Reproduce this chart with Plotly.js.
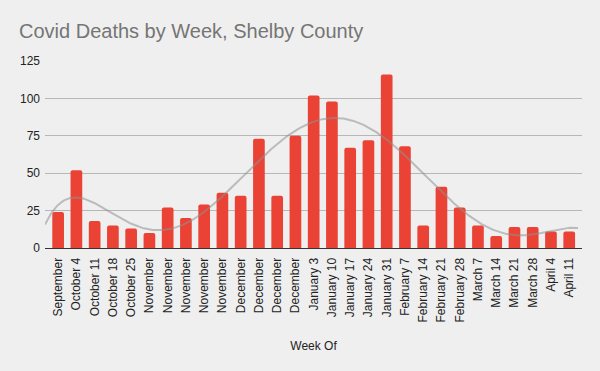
<!DOCTYPE html>
<html>
<head>
<meta charset="utf-8">
<script src="https://cdn.plot.ly/plotly-3.0.1.min.js"></script>
<style>html,body{margin:0;padding:0;background:#efefef;}#chart{width:600px;height:371px;}</style>
</head>
<body>
<div id="chart"></div>
<script>
const weeks = ["September","October 4","October 11","October 18","October 25","November","November","November","November","November","December","December","December","December","January 3","January 10","January 17","January 24","January 31","February 7","February 14","February 21","February 28","March 7","March 14","March 21","March 28","April 4","April 11"];
const deaths = [24,52,18,15,13,10,27,20,29,37,35,73,35,75,102,98,67,72,116,68,15,41,27,15,8,14,14,11,11];
const yTicks = [0,25,50,75,100,125];

const idx = weeks.map((_, i) => i);

// Polynomial (degree 6) least-squares trendline computed from the data
function polyFit(xs, ys, deg) {
  const c = (xs.length - 1) / 2, s = c;
  const n = deg + 1;
  const A = Array.from({length: n}, () => new Array(n + 1).fill(0));
  xs.forEach((x, k) => {
    const t = (x - c) / s;
    const p = [];
    for (let i = 0; i < n; i++) p.push(Math.pow(t, i));
    for (let i = 0; i < n; i++) {
      for (let j = 0; j < n; j++) A[i][j] += p[i] * p[j];
      A[i][n] += p[i] * ys[k];
    }
  });
  for (let i = 0; i < n; i++) {
    let m = i;
    for (let r = i + 1; r < n; r++) if (Math.abs(A[r][i]) > Math.abs(A[m][i])) m = r;
    [A[i], A[m]] = [A[m], A[i]];
    for (let r = 0; r < n; r++) {
      if (r === i) continue;
      const f = A[r][i] / A[i][i];
      for (let k = i; k <= n; k++) A[r][k] -= f * A[i][k];
    }
  }
  const coef = A.map((row, i) => row[n] / row[i]);
  return x => { const t = (x - c) / s; return coef.reduce((a, b, i) => a + b * Math.pow(t, i), 0); };
}
const f = polyFit(idx, deaths, 6);
const xr = [-0.72, 28.7];
const tx = [], ty = [];
for (let x = xr[0]; x <= 28.5; x += 0.05) { tx.push(x); ty.push(f(x)); }

const data = [
  {type: 'bar', x: idx, y: deaths, marker: {color: '#ea4335', cornerradius: 2}, hoverinfo: 'none'},
  {type: 'scatter', mode: 'lines', x: tx, y: ty, line: {color: '#8f8f8f', width: 2}, opacity: 0.55, hoverinfo: 'none'}
];

const layout = {
  width: 600, height: 371,
  paper_bgcolor: '#efefef', plot_bgcolor: '#efefef',
  margin: {l: 45, r: 18, t: 61, b: 123},
  showlegend: false,
  bargap: 0.36,
  font: {family: 'Arial, "Liberation Sans", sans-serif', size: 12, color: '#222222'},
  title: {text: 'Covid Deaths by Week, Shelby County', xref: 'container', yref: 'container', x: 19/600, xanchor: 'left', y: 1 - 31/371, yanchor: 'middle',
          font: {family: 'Arial, "Liberation Sans", sans-serif', size: 20, color: '#757575'}},
  xaxis: {
    range: xr, tickmode: 'array', tickvals: idx, ticktext: weeks, tickangle: -90,
    showgrid: false, zeroline: false, showline: true, linecolor: '#333333', linewidth: 1,
    ticks: '', ticklabelstandoff: 4, automargin: false,
    title: {text: 'Week Of', standoff: 20, font: {size: 12, color: '#222222'}}
  },
  yaxis: {
    range: [0, 125], tickmode: 'array', tickvals: yTicks, showgrid: true, gridcolor: '#b7b7b7', gridwidth: 1,
    zeroline: false, showline: false, ticks: '', ticklabelstandoff: 4, automargin: false
  }
};

Plotly.newPlot('chart', data, layout, {staticPlot: true});
</script>
</body>
</html>
